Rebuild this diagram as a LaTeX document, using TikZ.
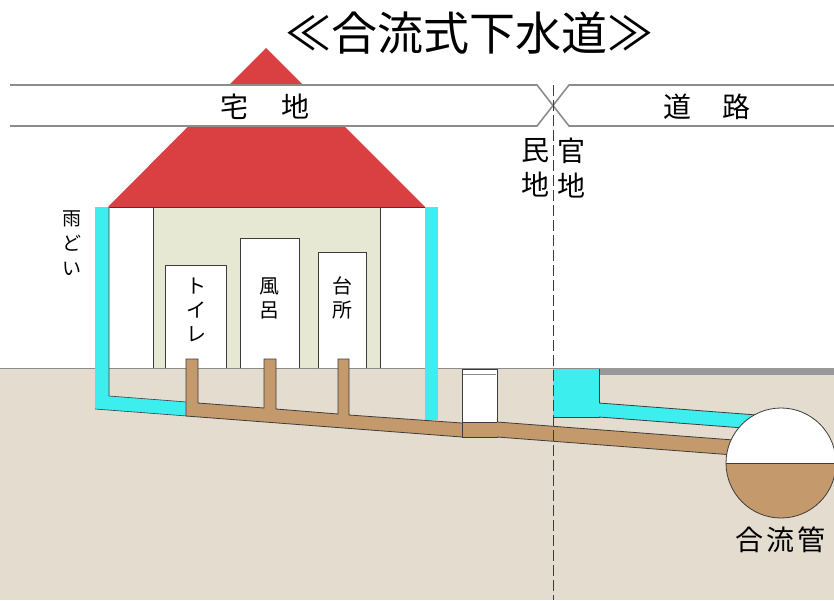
\documentclass[tikz,border=0pt]{standalone}
\usepackage{fontspec}
\setmainfont{Noto Sans CJK JP}
\begin{document}
\begin{tikzpicture}[x=1pt,y=-1pt,line join=miter]
  \definecolor{roofred}{RGB}{218,64,66}
  \definecolor{rainblue}{RGB}{60,238,238}
  \definecolor{sewage}{RGB}{196,154,108}
  \definecolor{wallbeige}{RGB}{231,232,211}
  \definecolor{soil}{RGB}{227,220,207}
  \definecolor{edge}{RGB}{60,60,60}
  \definecolor{bandgray}{RGB}{140,140,140}
  \tikzset{
    outline/.style={draw=edge,line width=0.8pt},
    label/.style={inner sep=0pt,font=\fontsize{28}{32}\selectfont},
    roomtext/.style={inner sep=0pt,align=center,font=\fontsize{20}{24}\selectfont},
    bandline/.style={draw=bandgray,line width=1.6pt},
  }
  \useasboundingbox (0,0) rectangle (834,600);
  \fill[white] (0,0) rectangle (834,600);

  % soil and ground surface
  \fill[soil] (0,368) rectangle (834,600);
  \draw[draw=bandgray,line width=1pt] (0,368) -- (834,368);

  % roof
  \fill[roofred] (266,48) -- (425,207) -- (108,207) -- cycle;

  % ownership band
  \fill[white] (0,85) rectangle (834,126);
  \draw[bandline] (10,85) -- (537,85) -- (569,126) -- (834,126);
  \draw[bandline] (10,126) -- (537,126) -- (569,85) -- (834,85);

  % house walls
  \fill[white] (109,207) rectangle (153,368);
  \fill[wallbeige] (153,207) rectangle (380,368);
  \fill[white] (380,207) rectangle (425,368);
  \draw[outline] (108,207) -- (425,207);
  \draw[outline] (153,207) -- (153,368);
  \draw[outline] (380,207) -- (380,368);

  % rooms
  \draw[outline,fill=white] (165,368) |- (226,265) -- (226,368);
  \draw[outline,fill=white] (240,368) |- (299,238) -- (299,368);
  \draw[outline,fill=white] (318,368) |- (366,252) -- (366,368);

  % rain gutters
  \fill[rainblue] (95,207) -- (109,207) -- (109,396) -- (187,402)
    -- (187,416) -- (95,409) -- cycle;
  \draw[edge,line width=0.6pt] (109,207) -- (109,396) -- (187,402);
  \draw[edge,line width=0.6pt] (95,409) -- (187,416);
  \fill[rainblue] (425,207) rectangle (438,420);

  % house drain with branch stubs
  \fill[sewage] (186,359) -- (198,359) -- (198,403)
    -- (264,408) -- (264,359) -- (276,359) -- (276,409)
    -- (338,414) -- (338,359) -- (349,359) -- (349,415)
    -- (462,423) -- (462,437) -- (186,416) -- cycle;
  \draw[outline] (186,416) -- (186,359) -- (198,359) -- (198,403)
    -- (264,408) -- (264,359) -- (276,359) -- (276,409)
    -- (338,414) -- (338,359) -- (349,359) -- (349,415) -- (462,423);
  \draw[outline] (186,416) -- (462,437);

  % inspection chamber
  \draw[outline,fill=white] (462,369) rectangle (497,437);
  \fill[sewage] (462,422) rectangle (497,437);
  \draw[outline] (462,422) -- (497,422);
  \draw[outline] (462,369) -- (462,437) -- (497,437) -- (497,369);
  \draw[draw=bandgray,line width=1.2pt] (463,374.5) -- (496,374.5);

  % public drain to the main
  \fill[sewage] (497,422) -- (760,442) -- (760,457) -- (497,437) -- cycle;
  \draw[outline] (497,422) -- (760,442);
  \draw[outline] (497,437) -- (760,457);

  % road surface, catch basin and its lead
  \fill[black!40] (599,368) rectangle (834,375);
  \fill[rainblue] (553,369) rectangle (599,417);
  \draw[outline] (599,369) -- (599,417) -- (553,417);
  \fill[rainblue] (599,403) -- (770,416) -- (770,430) -- (599,417) -- cycle;
  \draw[outline] (599,403) -- (770,416);
  \draw[outline] (599,417) -- (770,430);

  % combined sewer main
  \fill[white] (781,463) circle[radius=55];
  \fill[sewage] (726,463) arc[start angle=180,end angle=0,radius=55] -- cycle;
  \draw[outline] (726,463) -- (836,463);
  \draw[outline] (781,463) circle[radius=55];

  % private / public boundary
  \draw[edge,line width=1pt,dash pattern=on 11pt off 4pt] (553,85) -- (553,600);

  % texts
  \node[inner sep=0pt,font=\fontsize{46}{50}\selectfont] (title) at (469,33) {≪合流式下水道≫};
  \node[label] (takuchi) at (265,107) {宅\hspace{34pt}地};
  \node[label] (doro) at (707,107) {道\hspace{32pt}路};
  \node[label,align=center] (minchi) at (535,168) {民\\[3pt]地};
  \node[label,align=center] (kanchi) at (571,168) {官\\[3pt]地};
  \node[inner sep=0pt,align=center,font=\fontsize{19}{25}\selectfont] (amadoi) at (72,243) {雨\\ど\\い};
  \node[roomtext] (toilet) at (196,310) {ト\\イ\\レ};
  \node[roomtext] (bath) at (269,298) {風\\呂};
  \node[roomtext] (kitchen) at (342,298) {台\\所};
  \node[label] (main) at (780,540) {合\hspace{3pt}流\hspace{3pt}管};
\end{tikzpicture}
\end{document}
